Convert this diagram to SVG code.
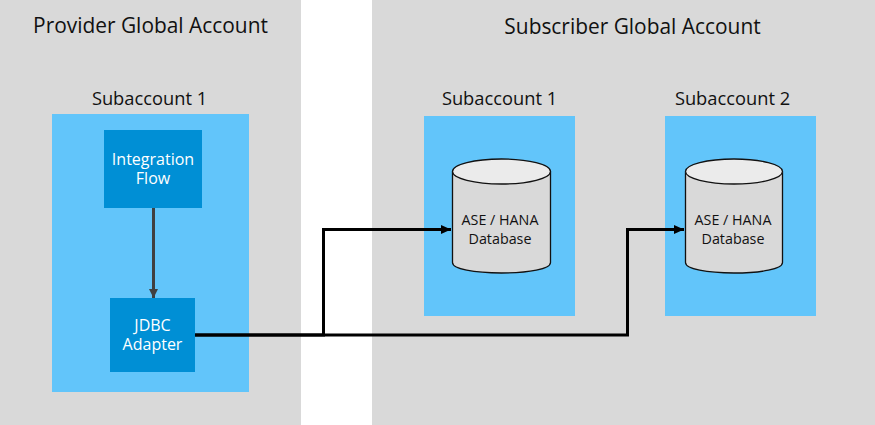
<svg xmlns="http://www.w3.org/2000/svg" width="875" height="425" viewBox="0 0 875 425">
<style>
text{font-family:"Open Sans","Noto Sans","Liberation Sans",sans-serif;text-anchor:middle}
.panel{fill:#d9d9d9}
.sub{fill:#62c5fa}
.box{fill:#008fd5}
.h1{font-size:20.9px;fill:#111}
.h2{font-size:18.3px;fill:#111}
.w{font-size:16px;fill:#fff}
.d{font-size:14.3px;fill:#111}
.body{fill:#d9d9d9;stroke:#111;stroke-width:1.3}
.top{fill:#ebebeb;stroke:#111;stroke-width:1.3}
.c{fill:none;stroke:#000;stroke-width:3}
</style>
<defs>
<marker id="a" markerUnits="userSpaceOnUse" markerWidth="11" markerHeight="11" refX="10" refY="5.500" orient="auto"><path d="M0 1L10 5.500L0 10z" fill="#000"/></marker>
<marker id="g" markerUnits="userSpaceOnUse" markerWidth="10" markerHeight="10" refX="9" refY="5" orient="auto"><path d="M0 0.500L9 5L0 9.500z" fill="#404040"/></marker>
</defs>
<rect width="875" height="425" fill="#fff"/>
<g id="provider"><rect class="panel" x="0" y="0" width="301" height="425"/><text class="h1" x="150.500" y="32.500">Provider Global Account</text></g>
<g id="subscriber"><rect class="panel" x="372" y="0" width="503" height="425"/><text class="h1" x="632.500" y="33.500">Subscriber Global Account</text></g>
<g id="provider-sub1"><rect class="sub" x="52" y="114" width="197" height="278"/><text class="h2" x="149.500" y="105">Subaccount 1</text></g>
<g id="subscriber-sub1"><rect class="sub" x="424" y="116" width="151" height="200"/><text class="h2" x="499.500" y="105">Subaccount 1</text></g>
<g id="subscriber-sub2"><rect class="sub" x="665" y="116" width="151" height="200"/><text class="h2" x="732.500" y="105">Subaccount 2</text></g>
<g id="integration-flow"><rect class="box" x="104" y="130" width="98" height="78"/><text class="w" x="153" y="165">Integration</text><text class="w" x="153" y="184">Flow</text></g>
<g id="jdbc-adapter"><rect class="box" x="110" y="298" width="85" height="74"/><text class="w" x="152.500" y="331">JDBC</text><text class="w" x="152.500" y="350">Adapter</text></g>
<g id="db1"><path class="body" d="M452.500 171.500V262.500C452.500 269 474 273 501.500 273S550.500 269 550.500 262.500V171.500"/><ellipse class="top" cx="501.500" cy="171.500" rx="49" ry="12.500"/><text class="d" x="500" y="225">ASE / HANA</text><text class="d" x="500" y="244">Database</text></g>
<g id="db2"><path class="body" d="M685.500 171.500V262.500C685.500 269 707 273 734 273S782.500 269 782.500 262.500V171.500"/><ellipse class="top" cx="734" cy="171.500" rx="48.500" ry="12.500"/><text class="d" x="733" y="225">ASE / HANA</text><text class="d" x="733" y="244">Database</text></g>
<g id="connectors">
<path d="M153.500 208V298" fill="none" stroke="#404040" stroke-width="3" marker-end="url(#g)"/>
<path class="c" d="M195 335H323.500V229.500H451" marker-end="url(#a)"/>
<path class="c" d="M195 335H627.500V229.500H684" marker-end="url(#a)"/>
</g>
</svg>
